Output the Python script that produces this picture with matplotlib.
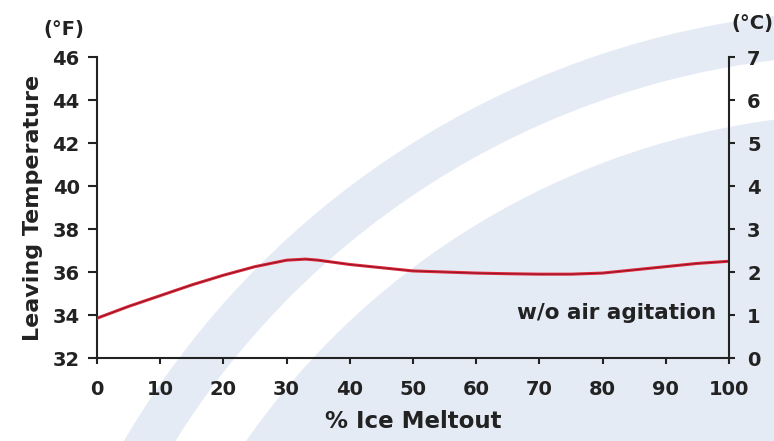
import matplotlib
matplotlib.use("Agg")
import matplotlib.pyplot as plt
from matplotlib.patches import Wedge, Circle

# data
meltout = [0, 5, 10, 15, 20, 25, 30, 33, 35, 40, 45, 50, 55, 60, 65, 70, 75, 80, 85, 90, 95, 100]
temp_f = [33.85, 34.4, 34.9, 35.4, 35.85, 36.25, 36.55, 36.6, 36.55, 36.35, 36.2, 36.05,
          36.0, 35.95, 35.92, 35.9, 35.9, 35.95, 36.1, 36.25, 36.4, 36.5]
x_ticks = list(range(0, 101, 10))
f_ticks = list(range(32, 47, 2))
c_ticks = list(range(0, 8))

txt = "#222222"
plt.rcParams['font.family'] = ['DejaVu Sans']
plt.rcParams['font.weight'] = 'bold'
plt.rcParams['axes.labelweight'] = 'bold'

fig = plt.figure(figsize=(7.74, 4.41), dpi=100)
fig.patch.set_facecolor("white")

# light watermark arcs in the background
bg = "#e5ebf5"
fig.add_artist(Wedge((8.75, -4.39), 8.70, 0, 360, width=0.44, facecolor=bg,
                     edgecolor="none", transform=fig.dpi_scale_trans, zorder=0))
fig.add_artist(Circle((8.75, -4.39), 7.67, facecolor=bg, edgecolor="none",
                      transform=fig.dpi_scale_trans, zorder=0))

ax = fig.add_axes([0.1253, 0.1882, 0.8166, 0.6825])
ax.set_facecolor("none")
ax.plot(meltout, temp_f, color="#e0283a", lw=2.2, solid_capstyle="round", zorder=3)
ax.plot(meltout, temp_f, color="#8a1526", lw=0.7, zorder=4)

ax.set_xlim(0, 100)
ax.set_ylim(32, 46)
ax.set_xticks(x_ticks)
ax.set_yticks(f_ticks)
for s in ["top", "right"]:
    ax.spines[s].set_visible(False)
for s in ["left", "bottom"]:
    ax.spines[s].set_linewidth(1.5)
    ax.spines[s].set_color(txt)
ax.tick_params(axis="y", direction="out", length=6.5, width=1.5, color=txt,
               labelsize=14, labelcolor=txt, pad=6)
ax.tick_params(axis="x", direction="out", length=4.5, width=1.5, color=txt,
               labelsize=14, labelcolor=txt, pad=11)

ax2 = ax.twinx()
ax2.set_ylim(0, 7)
ax2.set_yticks(c_ticks)
for s in ["top", "left", "bottom"]:
    ax2.spines[s].set_visible(False)
ax2.spines["right"].set_linewidth(1.5)
ax2.spines["right"].set_color(txt)
ax2.tick_params(axis="y", direction="out", length=4, width=1.5, color=txt,
                labelsize=14, labelcolor=txt, pad=9)

ax.set_ylabel("Leaving Temperature", fontsize=16, color=txt, labelpad=7)
ax.set_xlabel("% Ice Meltout", fontsize=16.5, color=txt, labelpad=8)

ax.text(98, 34.1, "w/o air agitation", ha="right", va="center", fontsize=15.5, color=txt)
fig.text(64 / 774, 1 - 29 / 441, "(°F)", ha="center", va="center", fontsize=14, color=txt)
fig.text(731 / 774, 1 - 24 / 441, "(°C)", ha="left", va="center", fontsize=14, color=txt)

fig.savefig("out.png", dpi=100)
